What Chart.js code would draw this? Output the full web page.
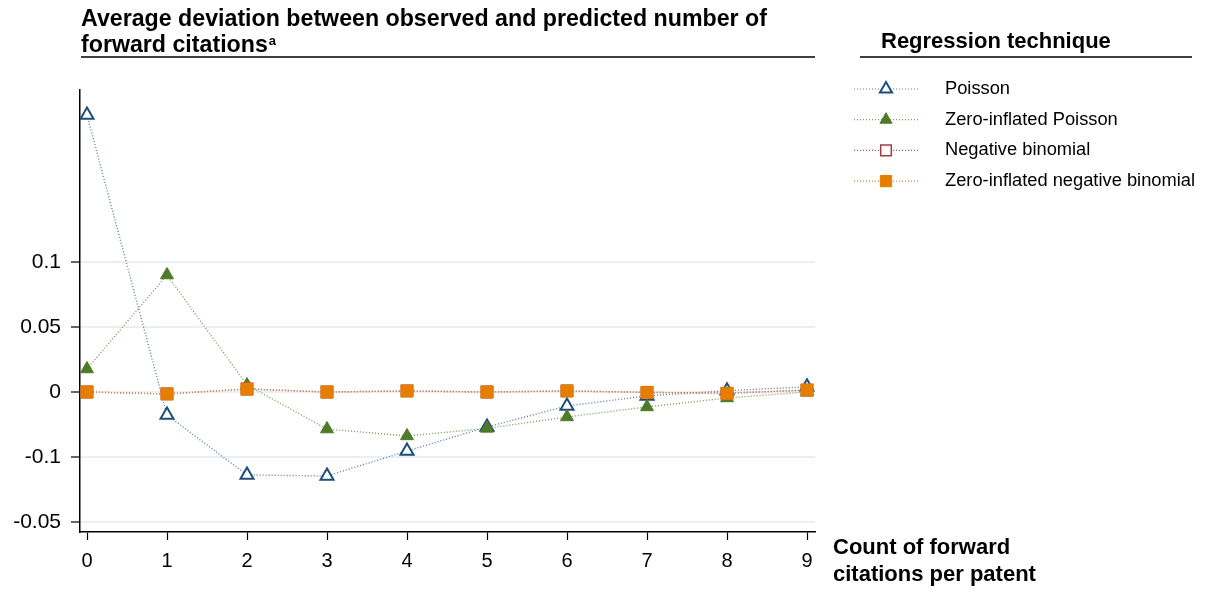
<!DOCTYPE html>
<html>
<head>
<meta charset="utf-8">
<script src="https://cdn.jsdelivr.net/npm/chart.js@4/dist/chart.umd.min.js"></script>
<style>
  html, body { margin: 0; padding: 0; background: #fff; }
  #wrap { width: 1208px; height: 592px; position: relative; }
</style>
</head>
<body>
<div id="wrap"><canvas id="devChart" width="1208" height="592"></canvas></div>
<script>
// ==== data ====
const counts = [0, 1, 2, 3, 4, 5, 6, 7, 8, 9];
const poisson = [0.213, -0.0177, -0.0638, -0.0646, -0.0454, -0.0269, -0.0108, -0.003, 0.001, 0.004];
const zip = [0.0177, 0.090, 0.0054, -0.0285, -0.0338, -0.028, -0.0192, -0.0115, -0.0046, 0.0];
const negBin = [0.0, -0.0015, 0.0023, 0.0, 0.0008, 0.0, 0.0008, -0.0003, -0.001, 0.0015];
const zinb = [0.0, -0.0015, 0.0023, 0.0, 0.0008, 0.0, 0.0008, -0.0003, -0.001, 0.0015];

const yTickValues = [0.1, 0.05, 0, -0.05, -0.1];
const yTickLabels = ['0.1', '0.05', '0', '-0.1', '-0.05'];
const seriesNames = ['Poisson', 'Zero-inflated Poisson', 'Negative binomial', 'Zero-inflated negative binomial'];

const FONT = '"Liberation Sans", Arial, sans-serif';

const pts = arr => arr.map((v, i) => ({ x: counts[i], y: v }));

const styles = [
    { line: '#5a7fa8', mark: '#1f4e79', fill: '#ffffff', shape: 'triangle', r: 7.5, bw: 2 },
    { line: '#7f9a55', mark: '#4f7a28', fill: '#4f7a28', shape: 'triangle', r: 7.5, bw: 1 },
    { line: '#b35a66', mark: '#a33a45', fill: '#ffffff', shape: 'rect', r: 8, bw: 1.5 },
    { line: '#e5822e', mark: '#e57e00', fill: '#e57e00', shape: 'rect', r: 8.5, bw: 1 }
];
const seriesData = [poisson, zip, negBin, zinb];

// ==== titles, legend, axis title ====
const decorPlugin = {
    id: 'decor',
    afterDraw(chart) {
        const c = chart.ctx;
        c.save();
        c.fillStyle = '#000';
        c.textBaseline = 'middle';
        c.textAlign = 'left';

        // chart title
        c.font = 'bold 23.2px ' + FONT;
        c.fillText('Average deviation between observed and predicted number of', 81, 20);
        c.fillText('forward citations', 81, 46);
        const w = c.measureText('forward citations').width;
        c.font = 'bold 13px ' + FONT;
        c.fillText('a', 81 + w + 1, 41);

        c.strokeStyle = '#000';
        c.lineWidth = 1.5;
        c.beginPath();
        c.moveTo(81, 57); c.lineTo(815, 57);
        c.moveTo(860, 57); c.lineTo(1192, 57);
        c.stroke();

        // legend
        c.font = 'bold 22px ' + FONT;
        c.fillText('Regression technique', 881, 42);
        c.font = '18.3px ' + FONT;
        seriesNames.forEach((name, i) => {
            const y = 89 + i * 30.7;
            const s = styles[i];
            c.save();
            c.strokeStyle = s.line;
            c.lineWidth = 1.2;
            c.setLineDash([1, 2]);
            c.beginPath();
            c.moveTo(854, y); c.lineTo(918, y);
            c.stroke();
            c.restore();
            c.fillStyle = s.fill;
            c.strokeStyle = s.mark;
            c.lineWidth = s.bw;
            Chart.helpers.drawPoint(c, { pointStyle: s.shape, radius: s.r - 0.5, borderWidth: s.bw }, 886, y);
            c.fillStyle = '#000';
            c.fillText(name, 945, y);
        });

        // x axis title
        c.font = 'bold 22px ' + FONT;
        c.fillText('Count of forward', 833, 548);
        c.fillText('citations per patent', 833, 575);
        c.restore();
    }
};

const ctx = document.getElementById('devChart').getContext('2d');
const devChart = new Chart(ctx, {
    type: 'line',
    data: {
        datasets: seriesData.map((arr, i) => ({
            label: seriesNames[i],
            data: pts(arr),
            borderColor: styles[i].line,
            borderWidth: 1.4,
            borderDash: [1, 2],
            fill: false,
            tension: 0,
            pointStyle: styles[i].shape,
            pointRadius: styles[i].r,
            pointBackgroundColor: styles[i].fill,
            pointBorderColor: styles[i].mark,
            pointBorderWidth: styles[i].bw,
            order: 3 - i
        }))
    },
    options: {
        responsive: false,
        animation: false,
        devicePixelRatio: 1,
        layout: { padding: { top: 90, right: 393, left: 0, bottom: 0 } },
        plugins: { legend: { display: false }, tooltip: { enabled: false } },
        scales: {
            x: {
                type: 'linear',
                min: -0.0875,
                max: 9.1,
                afterBuildTicks: s => { s.ticks = counts.map(v => ({ value: v })); },
                afterFit: s => { s.height = 60; },
                grid: { drawOnChartArea: false, tickLength: 8, tickColor: '#000', tickWidth: 1.2 },
                border: { color: '#000', width: 1.5 },
                ticks: { color: '#000', font: { family: FONT, size: 20 }, padding: 9, maxRotation: 0 }
            },
            y: {
                type: 'linear',
                min: -0.1077,
                max: 0.2323,
                afterBuildTicks: s => { s.ticks = yTickValues.map(v => ({ value: v })); },
                afterFit: s => { s.width = 80; },
                grid: { color: '#e9eff4', lineWidth: 2, tickLength: 9, tickColor: '#000', tickWidth: 1.2 },
                border: { color: '#000', width: 1.5 },
                ticks: {
                    color: '#000',
                    font: { family: FONT, size: 21 },
                    padding: 10,
                    callback: v => {
                        const k = yTickValues.findIndex(t => Math.abs(t - v) < 1e-9);
                        return k >= 0 ? yTickLabels[k] : '';
                    }
                }
            }
        }
    },
    plugins: [decorPlugin]
});
</script>
</body>
</html>
